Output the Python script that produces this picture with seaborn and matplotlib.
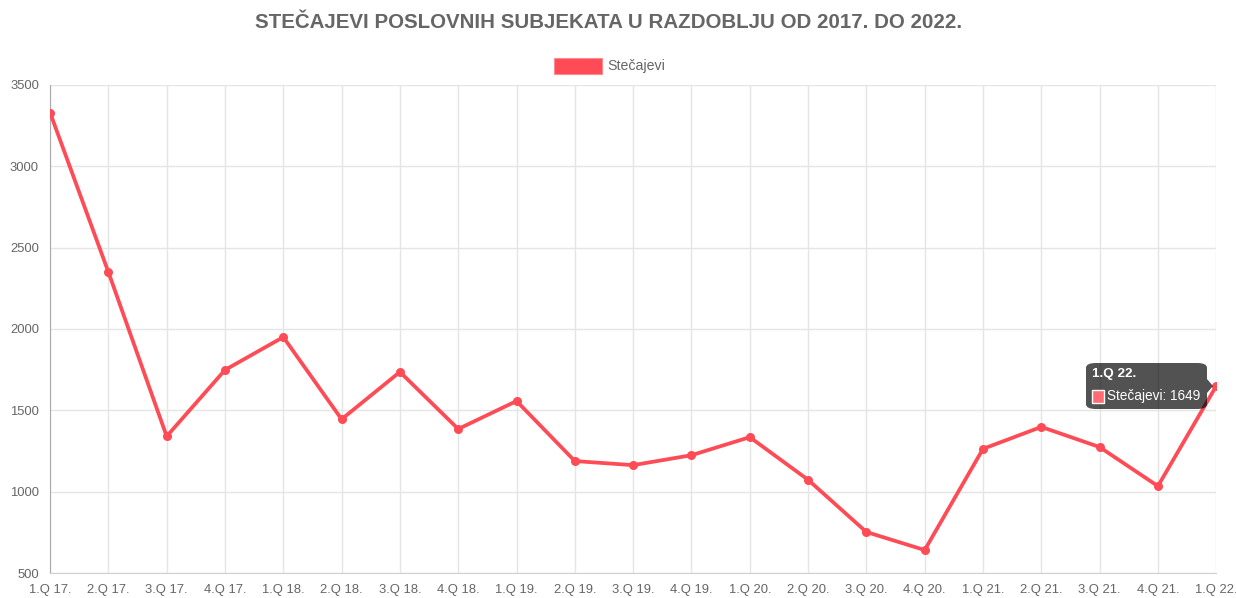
import matplotlib.pyplot as plt
import pandas as pd
import seaborn as sns
from matplotlib.patches import FancyBboxPatch, Rectangle, Polygon

# quarters and bankruptcy counts
quarters = ["1.Q 17.", "2.Q 17.", "3.Q 17.", "4.Q 17.",
            "1.Q 18.", "2.Q 18.", "3.Q 18.", "4.Q 18.",
            "1.Q 19.", "2.Q 19.", "3.Q 19.", "4.Q 19.",
            "1.Q 20.", "2.Q 20.", "3.Q 20.", "4.Q 20.",
            "1.Q 21.", "2.Q 21.", "3.Q 21.", "4.Q 21.",
            "1.Q 22."]
stecajevi = [3330, 2350, 1340, 1748, 1950, 1445, 1736, 1385,
             1557, 1188, 1163, 1224, 1335, 1073, 752, 641,
             1263, 1398, 1274, 1034, 1649]
y_ticks = [500, 1000, 1500, 2000, 2500, 3000, 3500]

df = pd.DataFrame({"kvartal": quarters, "Stečajevi": stecajevi})
df["x"] = range(len(df))

line_color = "#FF4B55"
text_color = "#666666"

sns.set_style("white")
plt.rcParams["font.family"] = ["Liberation Sans", "DejaVu Sans"]

fig = plt.figure(figsize=(12.36, 5.98), dpi=100)
ax = fig.add_axes([0.0405, 0.0418, 0.9435, 0.8162])

sns.lineplot(data=df, x="x", y="Stečajevi", ax=ax, color=line_color,
             linewidth=2.7, marker="o", markersize=6.5, markeredgewidth=0,
             zorder=3)

ax.set_xlim(0, len(quarters) - 1)
ax.set_ylim(500, 3500)
ax.set_xticks(df["x"])
ax.set_xticklabels(quarters)
ax.set_yticks(y_ticks)
ax.set_xlabel("")
ax.set_ylabel("")

ax.grid(True, color="#e5e5e5", linewidth=1)
ax.tick_params(axis="both", labelsize=9.4, colors=text_color, length=6,
               color="#e5e5e5", pad=2)
for side in ["top", "right"]:
    ax.spines[side].set_visible(False)
ax.spines["left"].set_color("#aaaaaa")
ax.spines["bottom"].set_color("#d0d0d0")

fig.text(0.4925, 0.962, "STEČAJEVI POSLOVNIH SUBJEKATA U RAZDOBLJU OD 2017. DO 2022.",
         ha="center", va="center", fontsize=14.8, fontweight="bold",
         color=text_color)

# legend (Chart.js style box)
fig.patches.append(Rectangle((554 / 1236, 1 - 74 / 598), 48 / 1236, 16 / 598,
                             transform=fig.transFigure, facecolor=line_color,
                             edgecolor="#ff8a90", linewidth=0.8))
fig.text(607 / 1236, 1 - 66 / 598, "Stečajevi", ha="left", va="center",
         fontsize=10.2, color=text_color)

# tooltip on the last point
y_last = df["Stečajevi"].iloc[-1]
tip = FancyBboxPatch((1086 / 1236, 1 - 409 / 598), 121 / 1236, 46 / 598,
                     boxstyle="round,pad=0,rounding_size=0.008",
                     transform=fig.transFigure, facecolor="#000000",
                     alpha=0.68, edgecolor="none", zorder=5)
fig.patches.append(tip)
caret = Polygon([(1207 / 1236, 1 - 379 / 598), (1213 / 1236, 1 - 386 / 598),
                 (1207 / 1236, 1 - 393 / 598)], closed=True,
                transform=fig.transFigure, facecolor="#000000", alpha=0.68,
                edgecolor="none", zorder=5)
fig.patches.append(caret)
fig.text(1092 / 1236, 1 - 374 / 598, df["kvartal"].iloc[-1], ha="left",
         va="center", fontsize=9.7, fontweight="bold", color="white", zorder=6)
fig.patches.append(Rectangle((1092 / 1236, 1 - 403 / 598), 12 / 1236, 13 / 598,
                             transform=fig.transFigure, facecolor="#ff6b72",
                             edgecolor="white", linewidth=1, zorder=6))
fig.text(1107 / 1236, 1 - 396 / 598, f"Stečajevi: {y_last}", ha="left",
         va="center", fontsize=9.8, color="white", zorder=6)

plt.savefig("out.png", dpi=100)
plt.close()
